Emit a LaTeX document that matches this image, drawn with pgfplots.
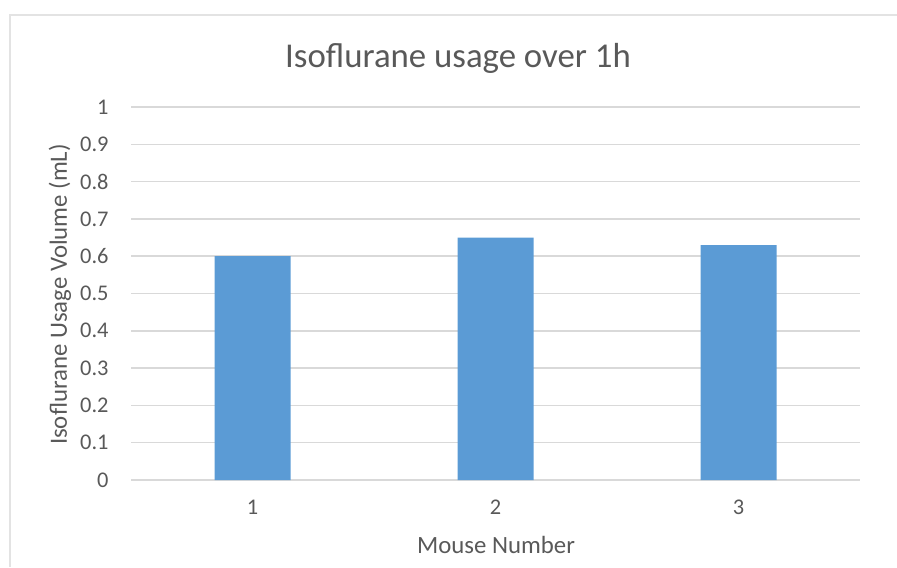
\documentclass[border=0pt]{standalone}
\usepackage{pgfplots}
\pgfplotsset{compat=1.18}
\usepackage{fontspec}
\setmainfont{Carlito}
\definecolor{bartc}{HTML}{5B9BD5}
\definecolor{gridc}{HTML}{D9D9D9}
\definecolor{borderc}{HTML}{E3E3E3}
\definecolor{txtc}{HTML}{595959}
\begin{document}
\begin{tikzpicture}
\path[use as bounding box] (-65.5pt,-43.5pt) rectangle (383pt,240pt);
\draw[borderc, line width=0.6pt] (-60.5pt,-43.5pt) -- (-60.5pt,232.5pt) -- (383pt,232.5pt);
\begin{axis}[
  at={(0pt,0pt)}, anchor=south west,
  scale only axis, width=364.5pt, height=186.5pt,
  xmin=0.5, xmax=3.5, ymin=0, ymax=1,
  xtick={1,2,3}, ytick={0,0.1,...,1},
  yticklabels={0,0.1,0.2,0.3,0.4,0.5,0.6,0.7,0.8,0.9,1},
  axis line style={draw=none},
  axis x line*=bottom, axis y line*=left,
  x axis line style={draw=gridc, line width=0.75pt},
  major tick length=0pt,
  ymajorgrids, grid style={gridc, line width=0.75pt},
  tick label style={font=\fontsize{11.2}{13}\selectfont, text=txtc},
  /pgf/number format/assume math mode=true,
  yticklabel style={anchor=east, inner sep=0pt, xshift=-11pt},
  xticklabel style={anchor=north, inner sep=0pt, yshift=-10pt},
  ybar, bar width=38pt,
  clip=false,
]
\addplot[fill=bartc, draw=none] coordinates {(1,0.60) (2,0.65) (3,0.63)};
\end{axis}
\node[anchor=base, text=txtc, font=\fontsize{17.4}{20}\selectfont, inner sep=0pt] at (163.5pt,206pt) {Isoflurane usage over 1h};
\node[anchor=center, rotate=90, text=txtc, font=\fontsize{12.4}{15}\selectfont, inner sep=0pt] at (-35.5pt,92.75pt) {Isoflurane Usage Volume (mL)};
\node[anchor=base, text=txtc, font=\fontsize{12.4}{15}\selectfont, inner sep=0pt] at (182.5pt,-36.5pt) {Mouse Number};
\end{tikzpicture}
\end{document}
